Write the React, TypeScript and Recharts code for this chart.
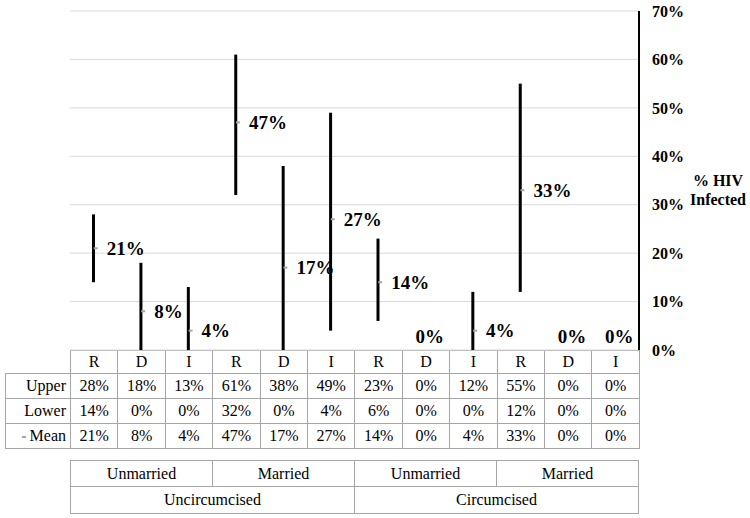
import React from "react";
import { ComposedChart, Bar, Scatter, XAxis, YAxis, CartesianGrid } from "recharts";

const categories = ["R", "D", "I", "R", "D", "I", "R", "D", "I", "R", "D", "I"];
const upper = [28, 18, 13, 61, 38, 49, 23, 0, 12, 55, 0, 0];
const lower = [14, 0, 0, 32, 0, 4, 6, 0, 0, 12, 0, 0];
const mean = [21, 8, 4, 47, 17, 27, 14, 0, 4, 33, 0, 0];
const yTicks = [0, 10, 20, 30, 40, 50, 60, 70];
const maritalGroups = ["Unmarried", "Married", "Unmarried", "Married"];
const circGroups = ["Uncircumcised", "Circumcised"];

const data = categories.map((c, i) => ({
  key: `${c}${i}`,
  cat: c,
  range: [lower[i], upper[i]],
  mean: mean[i],
}));

// plot area bounds (the tables line up with the category bands)
const LEFT = 70;
const RIGHT = 639;
const TOP = 11;
const BOTTOM = 350;
const W = 750;
const H = 518;
const COL = (RIGHT - LEFT) / categories.length;

const SERIF = '"Liberation Serif", "Times New Roman", serif';
const BORDER = "1px solid #a6a6a6";

const MeanMark = (props: any) => {
  const { cx, cy, payload } = props;
  if (cx == null || cy == null) return null;
  const zero = payload.mean === 0;
  return (
    <g>
      {!zero && <rect x={cx} y={cy - 1} width={4} height={2} fill="#a6a6a6" />}
      <text
        x={zero ? cx + 4 : cx + 13}
        y={zero ? Math.min(cy, 336) : cy}
        textAnchor={zero ? "middle" : "start"}
        dominantBaseline="central"
        fontFamily={SERIF}
        fontWeight="bold"
        fontSize={19}
        fill="#000"
      >
        {payload.mean}%
      </text>
    </g>
  );
};

const cellStyle: React.CSSProperties = {
  border: BORDER,
  textAlign: "center",
  padding: 0,
  whiteSpace: "nowrap",
};

const DataTable = () => {
  const rows = [
    { label: "Upper", vals: upper, marker: false },
    { label: "Lower", vals: lower, marker: false },
    { label: "Mean", vals: mean, marker: true },
  ];
  return (
    <table
      style={{
        position: "absolute",
        left: 5,
        top: BOTTOM,
        borderCollapse: "collapse",
        tableLayout: "fixed",
        width: RIGHT - 5,
        fontFamily: SERIF,
        fontSize: 16,
        color: "#000",
      }}
    >
      <colgroup>
        <col style={{ width: LEFT - 5 }} />
        {categories.map((_, i) => (
          <col key={i} style={{ width: COL }} />
        ))}
      </colgroup>
      <tbody>
        <tr style={{ height: 23 }}>
          <td style={{ border: "none" }} />
          {categories.map((c, i) => (
            <td key={i} style={cellStyle}>
              {c}
            </td>
          ))}
        </tr>
        {rows.map((r) => (
          <tr key={r.label} style={{ height: 25 }}>
            <td style={{ ...cellStyle, textAlign: "right", paddingRight: 4 }}>
              {r.marker && (
                <span
                  style={{
                    display: "inline-block",
                    width: 4,
                    height: 2,
                    background: "#a6a6a6",
                    verticalAlign: "middle",
                    marginRight: 4,
                  }}
                />
              )}
              {r.label}
            </td>
            {r.vals.map((v, i) => (
              <td key={i} style={cellStyle}>
                {v}%
              </td>
            ))}
          </tr>
        ))}
      </tbody>
    </table>
  );
};

const GroupTable = () => (
  <table
    style={{
      position: "absolute",
      left: LEFT,
      top: 460,
      borderCollapse: "collapse",
      tableLayout: "fixed",
      width: RIGHT - LEFT,
      fontFamily: SERIF,
      fontSize: 16,
      color: "#000",
    }}
  >
    <tbody>
      <tr style={{ height: 26 }}>
        {maritalGroups.map((g, i) => (
          <td key={i} style={cellStyle}>
            {g}
          </td>
        ))}
      </tr>
      <tr style={{ height: 27 }}>
        {circGroups.map((g, i) => (
          <td key={i} colSpan={2} style={cellStyle}>
            {g}
          </td>
        ))}
      </tr>
    </tbody>
  </table>
);

export default function App() {
  return (
    <div
      style={{
        position: "absolute",
        left: 0,
        top: 0,
        width: W,
        height: H,
        background: "#fff",
        overflow: "hidden",
      }}
    >
      <DataTable />
      <GroupTable />
      <div style={{ position: "absolute", left: 0, top: 0 }}>
        <ComposedChart
          width={W}
          height={H}
          data={data}
          margin={{ top: TOP, right: 0, left: LEFT, bottom: H - BOTTOM }}
        >
          <CartesianGrid horizontal vertical={false} stroke="#d9d9d9" />
          <XAxis
            dataKey="key"
            tick={false}
            tickLine={false}
            height={0}
            axisLine={{ stroke: "#000", strokeWidth: 2 }}
          />
          <YAxis
            orientation="right"
            width={W - RIGHT}
            domain={[0, 70]}
            ticks={yTicks}
            tickFormatter={(v: number) => `${v}%`}
            tickLine={false}
            tickSize={0}
            tickMargin={13}
            axisLine={{ stroke: "#000", strokeWidth: 2 }}
            tick={{
              fill: "#000",
              fontFamily: SERIF,
              fontWeight: "bold",
              fontSize: 16,
              textAnchor: "start",
            }}
          />
          <Bar dataKey="range" barSize={3} fill="#000" isAnimationActive={false} />
          <Scatter dataKey="mean" shape={<MeanMark />} isAnimationActive={false} />
        </ComposedChart>
      </div>
      <div
        style={{
          position: "absolute",
          left: 688,
          top: 171,
          width: 60,
          textAlign: "center",
          fontFamily: SERIF,
          fontWeight: "bold",
          fontSize: 16,
          lineHeight: "19px",
          color: "#000",
        }}
      >
        % HIV
        <br />
        Infected
      </div>
    </div>
  );
}
